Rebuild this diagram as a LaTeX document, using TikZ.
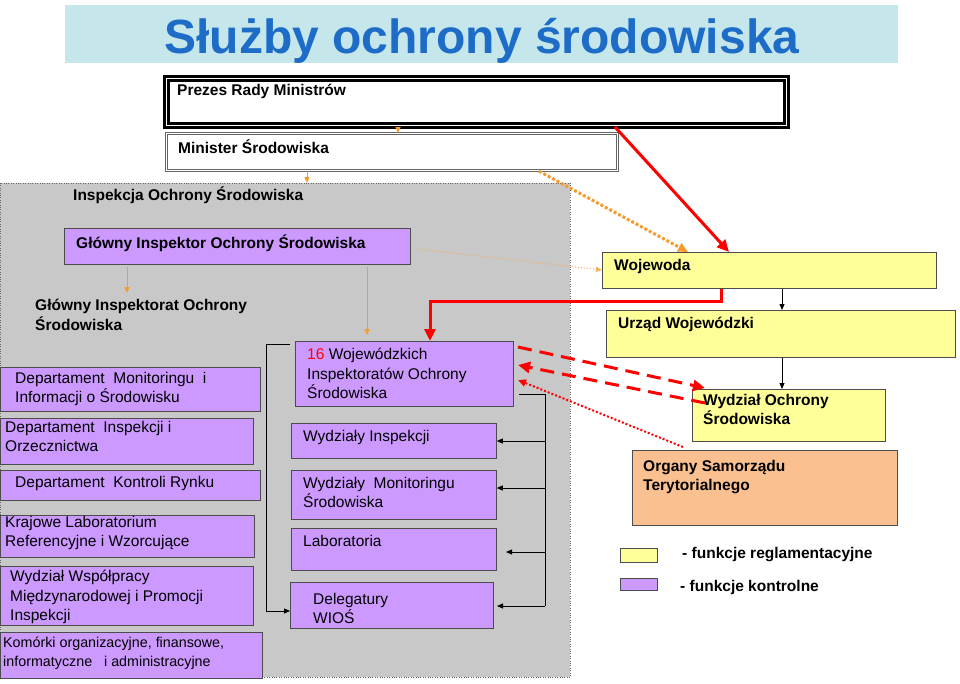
\documentclass[tikz,border=0pt]{standalone}
\usepackage{fontspec}
\setmainfont{Liberation Sans}
\usetikzlibrary{arrows.meta,calc}
\definecolor{TitleCyan}{HTML}{C5E6EA}
\definecolor{TitleBlue}{HTML}{1C6CC8}
\definecolor{InspGray}{HTML}{C8C8C8}
\definecolor{CtrlPurple}{HTML}{CC99FF}
\definecolor{RegYellow}{HTML}{FFFF99}
\definecolor{SamOrange}{HTML}{FAC090}
\definecolor{ArrOrange}{HTML}{F79A2E}
\tikzset{
  box/.style={draw=black!70,line width=0.8pt,anchor=north west,inner sep=0pt},
  ctrl/.style={box,fill=CtrlPurple},
  reg/.style={box,fill=RegYellow},
  txt/.style={anchor=north west,align=left,inner sep=0pt,font=\fontsize{15.5}{19.5}\selectfont},
  btxt/.style={txt,font=\fontsize{15.5}{19.5}\selectfont\bfseries},
  orng/.style={draw=ArrOrange,line width=1pt,-{Triangle[length=6pt,width=5pt]}},
  redarr/.style={draw=red,line width=3pt,-{Triangle[length=12pt,width=11pt]}},
  thin/.style={draw=black,line width=0.8pt,-{Triangle[length=6pt,width=5pt]}}
}
% box with top-left text
\newcommand{\tbox}[8]{%
  \node (#1) [#6,minimum width=#4pt,minimum height=#5pt] at (#2,#3) {};
  \node (#1t) [#7] at ($(#1.north west)+(12,7)$) {#8};}
\begin{document}
\begin{tikzpicture}[x=1pt,y=-1pt]
  \useasboundingbox (0,0) rectangle (960,683);
  % title and frame
  \fill[TitleCyan] (65,5) rectangle (898,63);
  \node (title) [font=\fontsize{48}{52}\selectfont\bfseries,text=TitleBlue] at (482,41) {Służby ochrony środowiska};
  \fill[InspGray] (0,183) rectangle (570,677);
  \draw[black!60,dotted] (0,183) rectangle (570,677);
  \node (ios) [btxt] at (73,187) {Inspekcja Ochrony Środowiska};
  % top boxes
  \tbox{prm}{165}{77}{620}{47}{box,draw=black,line width=3pt,double=white,double distance=1.5pt}{btxt}{Prezes Rady Ministrów}
  \tbox{ms}{166}{133}{451}{37}{box,draw=black!60,line width=1.2pt,double=white,double distance=1.2pt}{btxt}{Minister Środowiska}
  \tbox{gios}{64}{228}{346}{36}{ctrl}{btxt}{Główny Inspektor Ochrony Środowiska}
  \node (giosr) [btxt] at (35,299) {Główny Inspektorat Ochrony\\Środowiska};
  % left column
  \node (dmon) [ctrl,minimum width=260pt,minimum height=44pt] at (0,367) {};
  \node [txt] at (15,372) {Departament\ \ Monitoringu\ \ i\\Informacji o Środowisku};
  \node (dins) [ctrl,minimum width=253pt,minimum height=46pt] at (0,418) {};
  \node [txt] at (5,421) {Departament\ \ Inspekcji i\\Orzecznictwa};
  \node (dkr) [ctrl,minimum width=260pt,minimum height=30pt] at (0,470) {};
  \node [txt] at (15,476) {Departament\ \ Kontroli Rynku};
  \node (klab) [ctrl,minimum width=254pt,minimum height=42pt] at (0,515) {};
  \node [txt] at (5,516) {Krajowe Laboratorium\\Referencyjne i Wzorcujące};
  \node (wwm) [ctrl,minimum width=253pt,minimum height=59pt] at (0,566) {};
  \node [txt] at (10,570) {Wydział Współpracy\\Międzynarodowej i Promocji\\Inspekcji};
  \node (kom) [ctrl,minimum width=262pt,minimum height=46pt] at (0,632) {};
  \node [txt,font=\fontsize{14.3}{18.5}\selectfont] at (3,637) {Komórki organizacyjne, finansowe,\\informatyczne\ \ \ i administracyjne};
  % middle column
  \tbox{wios}{295}{341}{218}{65}{ctrl}{txt}{\textcolor{red}{16} Wojewódzkich\\Inspektoratów Ochrony\\Środowiska}
  \tbox{wins}{291}{423}{205}{35}{ctrl}{txt}{Wydziały Inspekcji}
  \tbox{wmon}{291}{470}{205}{49}{ctrl}{txt}{Wydziały\ \ Monitoringu\\Środowiska}
  \tbox{lab}{291}{528}{205}{42}{ctrl}{txt}{Laboratoria}
  \node (del) [ctrl,minimum width=203pt,minimum height=46pt] at (290,582) {};
  \node [txt] at (313,593) {Delegatury\\WIOŚ};
  % right column
  \tbox{woj}{602}{252}{334}{36}{reg}{btxt}{Wojewoda}
  \tbox{uw}{606}{310}{349}{47}{reg}{btxt}{Urząd Wojewódzki}
  \node (wos) [reg,minimum width=193pt,minimum height=52pt] at (692,389) {};
  \node [btxt] at (703,394) {Wydział Ochrony\\Środowiska};
  \node (osam) [box,fill=SamOrange,minimum width=265pt,minimum height=75pt] at (632,450) {};
  \node [btxt] at (643,460) {Organy Samorządu\\Terytorialnego};
  % legend
  \node (lreg) [reg,minimum width=37pt,minimum height=14pt] at (620,548) {};
  \node (lregt) [btxt,anchor=west] at (682,555) {- funkcje reglamentacyjne};
  \node (lctl) [ctrl,minimum width=37pt,minimum height=12pt] at (620,578) {};
  \node (lctlt) [btxt,anchor=west] at (680,587) {- funkcje kontrolne};
  % connectors
  \draw[orng] (prm.south -| 398,0) -- (ms.north -| 398,0);
  \draw[orng] (ms.south -| 307,0) -- (307,183);
  \draw[orng] (gios.south -| 127,0) ++(0,2) -- (127,293);
  \draw[orng] (gios.south -| 367,0) ++(0,2) -- (367,335);
  \draw[redarr] (prm.south -| 615,0) -- (woj.north -| 729,0);
  \draw[ArrOrange,line width=3pt,dotted,-{Triangle[length=10pt,width=9pt]}] (ms.south -| 539,0) -- (woj.north -| 688,0);
  \draw[ArrOrange!80,line width=1pt,dotted,-{Triangle[length=6pt,width=5pt]}] (417,249) -- (woj.west |- 0,270);
  \draw[redarr] (woj.south -| 721,0) -- (721,301) -- (430,301) -- (wios.north -| 430,0);
  \draw[thin] (woj.south -| 782,0) -- (uw.north -| 782,0);
  \draw[thin] (uw.south -| 782,0) -- (wos.north -| 782,0);
  \draw[red,line width=3pt,dash pattern=on 14pt off 8pt,-{Triangle[length=12pt,width=11pt]}] (518,347) -- (705,388);
  \draw[red,line width=3pt,dash pattern=on 14pt off 8pt,-{Triangle[length=12pt,width=11pt]}] (705,403) -- (518,365);
  \draw[red,line width=2pt,dotted,-{Triangle[length=8pt,width=7pt]}] (osam.north west) ++(51,-3) -- (518,380);
  % brackets
  \draw[thin] (290,344) -- (266,344) -- (266,611) -- (del.west |- 0,611);
  \draw[black,line width=0.8pt] (519,394) -- (545,394) -- (545,606);
  \draw[thin] (545,441) -- (wins.east |- 0,441);
  \draw[thin] (545,488) -- (wmon.east |- 0,488);
  \draw[thin] (545,552) -- (506,552);
  \draw[thin] (545,606) -- (497,606);
\end{tikzpicture}
\end{document}
